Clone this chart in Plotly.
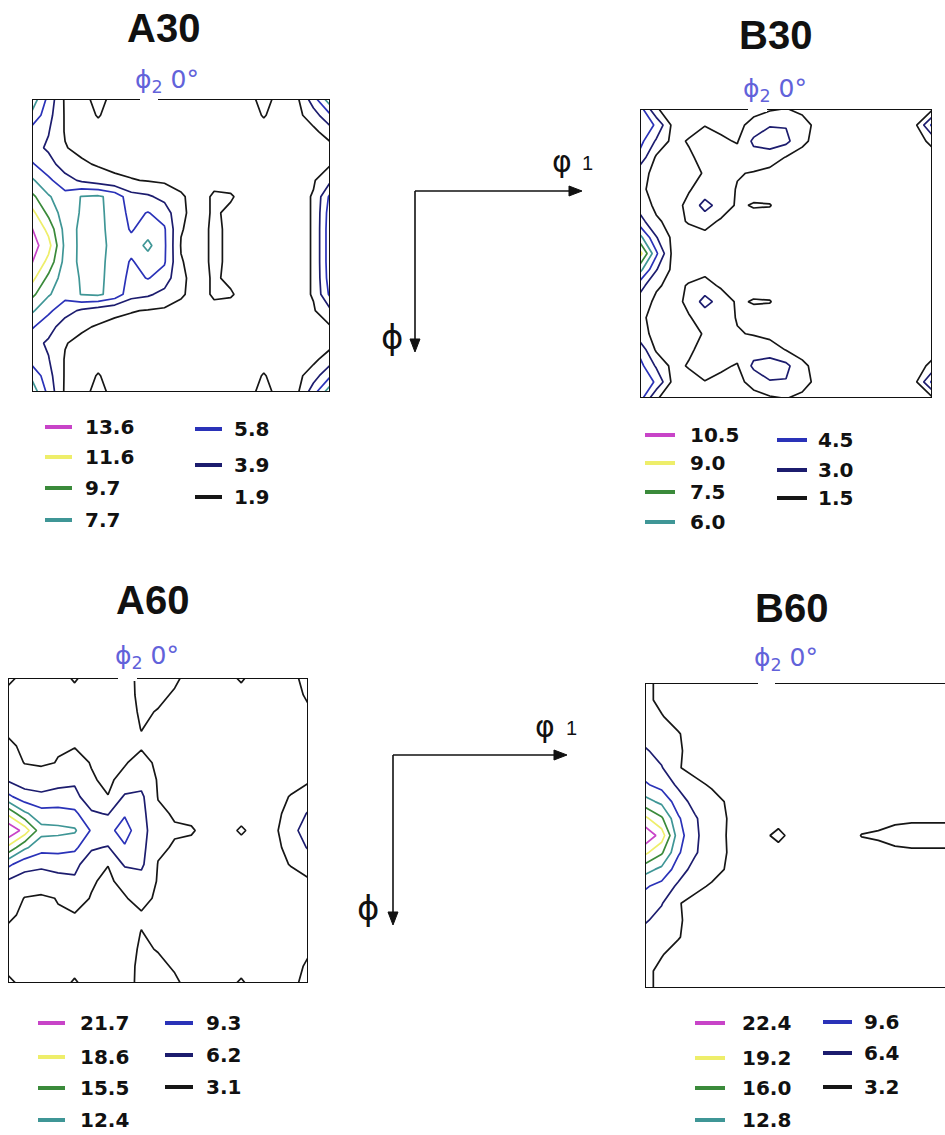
import plotly.graph_objects as go

W, H = 945, 1135

# Euler-angle grid of the phi2 = 0 sections (degrees): phi1 across, Phi downward
PHI1 = [0, 5, 10, 15, 20, 25, 30, 35, 40, 45, 50, 55, 60, 65, 70, 75, 80, 85, 90]
PHI = [0, 5, 10, 15, 20, 25, 30, 35, 40, 45, 50, 55, 60, 65, 70, 75, 80, 85, 90]

# iso-intensity levels, low to high
A30_LEVELS = [1.9, 3.9, 5.8, 7.7, 9.7, 11.6, 13.6]
B30_LEVELS = [1.5, 3.0, 4.5, 6.0, 7.5, 9.0, 10.5]
A60_LEVELS = [3.1, 6.2, 9.3, 12.4, 15.5, 18.6, 21.7]
B60_LEVELS = [3.2, 6.4, 9.6, 12.8, 16.0, 19.2, 22.4]

LEVEL_COLORS = ["#161616", "#1c1c6e", "#2a32b8", "#3f9696", "#3a8a3a", "#eeee6a", "#c844c8"]

# ODF intensity, one row per Phi value, one column per phi1 value
A30_ODF = [
    [9.0, 5.2, 1.6, 1.4, 2.4, 1.4, 1.2, 1.2, 1.2, 1.2, 1.2, 1.2, 1.2, 1.4, 2.4, 1.4, 1.5, 5.0, 9.0],
    [7.2, 4.6, 1.7, 1.3, 2.0, 1.3, 1.2, 1.2, 1.2, 1.2, 1.2, 1.2, 1.2, 1.3, 2.0, 1.3, 1.3, 3.0, 5.5],
    [5.0, 4.0, 1.75, 1.2, 1.4, 1.2, 1.2, 1.2, 1.2, 1.2, 1.2, 1.2, 1.2, 1.2, 1.4, 1.2, 1.2, 1.4, 3.0],
    [4.6, 3.6, 2.0, 1.4, 1.2, 1.2, 1.2, 1.2, 1.2, 1.2, 1.2, 1.2, 1.2, 1.2, 1.2, 1.2, 1.2, 1.2, 1.2],
    [6.0, 4.6, 3.0, 2.2, 1.7, 1.4, 1.3, 1.2, 1.2, 1.2, 1.2, 1.2, 1.2, 1.2, 1.2, 1.2, 1.2, 1.2, 1.7],
    [8.0, 6.2, 4.6, 3.6, 2.9, 2.3, 2.0, 1.8, 1.6, 1.4, 1.2, 1.5, 1.3, 1.2, 1.2, 1.2, 1.2, 1.7, 3.5],
    [10.2, 7.9, 6.5, 7.8, 8.0, 7.0, 4.6, 4.2, 3.3, 2.1, 1.3, 2.1, 2.05, 1.3, 1.2, 1.2, 1.2, 2.05, 6.2],
    [12.2, 9.2, 6.6, 7.9, 8.1, 7.0, 5.2, 5.9, 5.0, 2.2, 1.3, 2.1, 1.6, 1.2, 1.2, 1.2, 1.2, 2.05, 6.8],
    [13.7, 11.0, 7.0, 8.0, 8.2, 7.0, 5.6, 6.8, 6.0, 2.0, 1.3, 2.2, 1.6, 1.2, 1.2, 1.2, 1.2, 2.05, 7.0],
    [14.5, 12.3, 7.2, 7.9, 8.2, 7.2, 6.5, 8.2, 6.1, 1.8, 1.3, 2.2, 1.6, 1.2, 1.2, 1.2, 1.2, 2.05, 7.0],
    [13.7, 11.0, 7.0, 8.0, 8.2, 7.0, 5.6, 6.8, 6.0, 2.0, 1.3, 2.2, 1.6, 1.2, 1.2, 1.2, 1.2, 2.05, 7.0],
    [12.2, 9.2, 6.6, 7.9, 8.1, 7.0, 5.2, 5.9, 5.0, 2.2, 1.3, 2.1, 1.6, 1.2, 1.2, 1.2, 1.2, 2.05, 6.8],
    [10.2, 7.9, 6.5, 7.8, 8.0, 7.0, 4.6, 4.2, 3.3, 2.1, 1.3, 2.1, 2.05, 1.3, 1.2, 1.2, 1.2, 2.05, 6.2],
    [8.0, 6.2, 4.6, 3.6, 2.9, 2.3, 2.0, 1.8, 1.6, 1.4, 1.2, 1.5, 1.3, 1.2, 1.2, 1.2, 1.2, 1.7, 3.5],
    [6.0, 4.6, 3.0, 2.2, 1.7, 1.4, 1.3, 1.2, 1.2, 1.2, 1.2, 1.2, 1.2, 1.2, 1.2, 1.2, 1.2, 1.2, 1.7],
    [4.6, 3.6, 2.0, 1.4, 1.2, 1.2, 1.2, 1.2, 1.2, 1.2, 1.2, 1.2, 1.2, 1.2, 1.2, 1.2, 1.2, 1.2, 1.2],
    [5.0, 4.0, 1.75, 1.2, 1.4, 1.2, 1.2, 1.2, 1.2, 1.2, 1.2, 1.2, 1.2, 1.2, 1.4, 1.2, 1.2, 1.4, 3.0],
    [7.2, 4.6, 1.7, 1.3, 2.0, 1.3, 1.2, 1.2, 1.2, 1.2, 1.2, 1.2, 1.2, 1.3, 2.0, 1.3, 1.3, 3.0, 5.5],
    [9.0, 5.2, 1.6, 1.4, 2.4, 1.4, 1.2, 1.2, 1.2, 1.2, 1.2, 1.2, 1.2, 1.4, 2.4, 1.4, 1.5, 5.0, 9.0],
]

B30_ODF = [
    [5.2, 1.6, 1.0, 1.0, 1.0, 1.0, 1.0, 1.0, 1.3, 1.55, 1.2, 1.0, 1.0, 1.0, 1.0, 1.0, 1.0, 1.0, 1.2],
    [5.6, 4.3, 1.2, 1.0, 1.45, 1.2, 1.1, 2.0, 2.9, 2.9, 2.0, 1.1, 1.0, 1.0, 1.0, 1.0, 1.0, 1.3, 4.8],
    [5.0, 2.8, 1.1, 1.6, 2.2, 1.7, 1.4, 3.3, 3.8, 3.4, 1.8, 1.0, 1.0, 1.0, 1.0, 1.0, 1.0, 1.0, 1.8],
    [4.0, 1.3, 1.0, 1.3, 1.9, 1.9, 2.0, 2.4, 2.2, 1.45, 1.0, 1.0, 1.0, 1.0, 1.0, 1.0, 1.0, 1.0, 1.0],
    [2.0, 1.1, 1.0, 1.1, 1.6, 1.9, 1.6, 1.4, 1.1, 1.0, 1.0, 1.0, 1.0, 1.0, 1.0, 1.0, 1.0, 1.0, 1.0],
    [1.8, 1.0, 1.0, 1.4, 2.0, 2.2, 1.4, 1.0, 1.0, 1.0, 1.0, 1.0, 1.0, 1.0, 1.0, 1.0, 1.0, 1.0, 1.0],
    [2.3, 1.2, 1.0, 1.8, 3.6, 2.3, 1.3, 1.6, 1.55, 1.0, 1.0, 1.0, 1.0, 1.0, 1.0, 1.0, 1.0, 1.0, 1.0],
    [3.6, 1.7, 1.1, 1.6, 2.0, 1.3, 1.0, 1.0, 1.0, 1.0, 1.0, 1.0, 1.0, 1.0, 1.0, 1.0, 1.0, 1.0, 1.0],
    [6.5, 3.1, 1.2, 1.0, 1.1, 1.0, 1.0, 1.0, 1.0, 1.0, 1.0, 1.0, 1.0, 1.0, 1.0, 1.0, 1.0, 1.0, 1.0],
    [9.6, 4.8, 1.2, 1.0, 1.0, 1.0, 1.0, 1.0, 1.0, 1.0, 1.0, 1.0, 1.0, 1.0, 1.0, 1.0, 1.0, 1.0, 1.0],
    [6.5, 3.1, 1.2, 1.0, 1.1, 1.0, 1.0, 1.0, 1.0, 1.0, 1.0, 1.0, 1.0, 1.0, 1.0, 1.0, 1.0, 1.0, 1.0],
    [3.6, 1.7, 1.1, 1.6, 2.0, 1.3, 1.0, 1.0, 1.0, 1.0, 1.0, 1.0, 1.0, 1.0, 1.0, 1.0, 1.0, 1.0, 1.0],
    [2.3, 1.2, 1.0, 1.8, 3.6, 2.3, 1.3, 1.6, 1.55, 1.0, 1.0, 1.0, 1.0, 1.0, 1.0, 1.0, 1.0, 1.0, 1.0],
    [1.8, 1.0, 1.0, 1.4, 2.0, 2.2, 1.4, 1.0, 1.0, 1.0, 1.0, 1.0, 1.0, 1.0, 1.0, 1.0, 1.0, 1.0, 1.0],
    [2.0, 1.1, 1.0, 1.1, 1.6, 1.9, 1.6, 1.4, 1.1, 1.0, 1.0, 1.0, 1.0, 1.0, 1.0, 1.0, 1.0, 1.0, 1.0],
    [4.0, 1.3, 1.0, 1.3, 1.9, 1.9, 2.0, 2.4, 2.2, 1.45, 1.0, 1.0, 1.0, 1.0, 1.0, 1.0, 1.0, 1.0, 1.0],
    [5.0, 2.8, 1.1, 1.6, 2.2, 1.7, 1.4, 3.3, 3.8, 3.4, 1.8, 1.0, 1.0, 1.0, 1.0, 1.0, 1.0, 1.0, 1.8],
    [5.6, 4.3, 1.2, 1.0, 1.45, 1.2, 1.1, 2.0, 2.9, 2.9, 2.0, 1.1, 1.0, 1.0, 1.0, 1.0, 1.0, 1.3, 4.8],
    [5.2, 1.6, 1.0, 1.0, 1.0, 1.0, 1.0, 1.0, 1.3, 1.55, 1.2, 1.0, 1.0, 1.0, 1.0, 1.0, 1.0, 1.0, 1.2],
]

A60_ODF = [
    [3.6, 2.5, 2.0, 2.5, 3.3, 2.4, 2.0, 2.4, 3.6, 3.8, 3.4, 2.5, 2.2, 2.6, 3.3, 2.4, 2.2, 2.8, 3.5],
    [2.5, 2.3, 2.0, 2.2, 2.6, 2.2, 2.0, 2.3, 3.6, 3.5, 2.9, 2.3, 2.0, 2.0, 2.6, 2.2, 2.0, 2.6, 3.3],
    [2.2, 2.0, 2.0, 2.0, 2.1, 2.0, 1.9, 2.2, 3.4, 3.0, 2.5, 2.0, 1.8, 1.8, 1.8, 1.8, 1.8, 2.0, 2.9],
    [2.8, 2.3, 2.2, 2.3, 2.5, 2.2, 2.0, 2.2, 3.15, 2.6, 2.3, 1.9, 1.8, 1.8, 1.8, 1.8, 1.8, 1.9, 2.4],
    [3.4, 2.8, 2.7, 2.9, 3.0, 2.6, 2.3, 2.6, 2.8, 2.5, 2.3, 2.0, 1.8, 1.8, 1.8, 1.8, 1.8, 2.0, 2.6],
    [4.5, 3.0, 2.7, 3.2, 3.8, 3.0, 2.6, 2.9, 4.0, 2.6, 2.4, 2.2, 2.0, 1.9, 1.9, 1.9, 1.9, 2.2, 2.8],
    [5.8, 4.6, 4.6, 5.2, 5.7, 3.3, 2.7, 3.8, 5.0, 2.9, 2.6, 2.2, 2.0, 1.9, 1.9, 2.0, 2.2, 2.5, 2.9],
    [10.0, 7.5, 6.8, 7.2, 7.0, 4.5, 3.15, 6.6, 6.8, 3.0, 2.6, 2.4, 2.2, 2.0, 2.0, 2.2, 2.6, 3.2, 3.8],
    [18.0, 13.0, 10.5, 10.5, 10.0, 6.6, 6.0, 9.0, 7.2, 3.5, 2.9, 2.7, 2.4, 2.0, 2.0, 2.2, 2.6, 3.8, 6.5],
    [24.5, 20.5, 13.5, 13.2, 12.8, 9.0, 8.5, 10.5, 7.5, 4.0, 3.3, 3.25, 2.6, 2.0, 3.5, 2.0, 2.6, 5.0, 8.0],
    [18.0, 13.0, 10.5, 10.5, 10.0, 6.6, 6.0, 9.0, 7.2, 3.5, 2.9, 2.7, 2.4, 2.0, 2.0, 2.2, 2.6, 3.8, 6.5],
    [10.0, 7.5, 6.8, 7.2, 7.0, 4.5, 3.15, 6.6, 6.8, 3.0, 2.6, 2.4, 2.2, 2.0, 2.0, 2.2, 2.6, 3.2, 3.8],
    [5.8, 4.6, 4.6, 5.2, 5.7, 3.3, 2.7, 3.8, 5.0, 2.9, 2.6, 2.2, 2.0, 1.9, 1.9, 2.0, 2.2, 2.5, 2.9],
    [4.5, 3.0, 2.7, 3.2, 3.8, 3.0, 2.6, 2.9, 4.0, 2.6, 2.4, 2.2, 2.0, 1.9, 1.9, 1.9, 1.9, 2.2, 2.8],
    [3.4, 2.8, 2.7, 2.9, 3.0, 2.6, 2.3, 2.6, 2.8, 2.5, 2.3, 2.0, 1.8, 1.8, 1.8, 1.8, 1.8, 2.0, 2.6],
    [2.8, 2.3, 2.2, 2.3, 2.5, 2.2, 2.0, 2.2, 3.15, 2.6, 2.3, 1.9, 1.8, 1.8, 1.8, 1.8, 1.8, 1.9, 2.4],
    [2.2, 2.0, 2.0, 2.0, 2.1, 2.0, 1.9, 2.2, 3.4, 3.0, 2.5, 2.0, 1.8, 1.8, 1.8, 1.8, 1.8, 2.0, 2.9],
    [2.5, 2.3, 2.0, 2.2, 2.6, 2.2, 2.0, 2.3, 3.6, 3.5, 2.9, 2.3, 2.0, 2.0, 2.6, 2.2, 2.0, 2.6, 3.3],
    [3.6, 2.5, 2.0, 2.5, 3.3, 2.4, 2.0, 2.4, 3.6, 3.8, 3.4, 2.5, 2.2, 2.6, 3.3, 2.4, 2.2, 2.8, 3.5],
]

B60_ODF = [
    [3.8, 2.6, 2.0, 1.8, 1.7, 1.6, 1.6, 1.6, 1.6, 1.6, 1.6, 1.6, 1.6, 1.6, 1.6, 1.6, 1.6, 1.6, 1.6],
    [3.6, 2.8, 2.2, 1.9, 1.8, 1.7, 1.6, 1.6, 1.6, 1.6, 1.6, 1.6, 1.6, 1.6, 1.6, 1.6, 1.6, 1.6, 1.6],
    [3.8, 3.3, 2.6, 2.1, 1.9, 1.8, 1.7, 1.6, 1.6, 1.6, 1.6, 1.6, 1.6, 1.6, 1.6, 1.6, 1.6, 1.6, 1.6],
    [5.0, 4.2, 3.3, 2.5, 2.1, 1.9, 1.8, 1.7, 1.6, 1.6, 1.6, 1.6, 1.6, 1.6, 1.6, 1.6, 1.6, 1.6, 1.6],
    [6.8, 5.2, 3.4, 2.6, 2.3, 2.0, 1.9, 1.8, 1.7, 1.6, 1.6, 1.6, 1.6, 1.6, 1.6, 1.6, 1.6, 1.6, 1.6],
    [8.0, 6.6, 3.3, 2.7, 2.2, 2.1, 2.0, 1.9, 1.8, 1.7, 1.6, 1.6, 1.6, 1.6, 1.6, 1.6, 1.6, 1.6, 1.6],
    [10.0, 8.5, 5.8, 3.6, 3.0, 2.4, 2.1, 2.0, 1.9, 1.8, 1.7, 1.6, 1.6, 1.6, 1.6, 1.6, 1.7, 1.7, 1.7],
    [14.0, 12.0, 8.0, 5.2, 3.8, 3.0, 2.3, 2.1, 2.0, 1.9, 1.8, 1.7, 1.7, 1.7, 1.8, 1.9, 2.0, 2.0, 2.0],
    [20.0, 16.5, 10.0, 6.8, 4.2, 3.1, 2.2, 2.2, 2.6, 2.2, 1.9, 1.8, 1.8, 2.0, 2.2, 2.6, 2.8, 2.8, 2.8],
    [25.0, 21.0, 11.0, 7.0, 4.5, 3.0, 2.0, 2.8, 3.6, 2.6, 2.0, 1.8, 2.0, 3.3, 3.6, 4.2, 4.4, 4.4, 4.4],
    [20.0, 16.5, 10.0, 6.8, 4.2, 3.1, 2.2, 2.2, 2.6, 2.2, 1.9, 1.8, 1.8, 2.0, 2.2, 2.6, 2.8, 2.8, 2.8],
    [14.0, 12.0, 8.0, 5.2, 3.8, 3.0, 2.3, 2.1, 2.0, 1.9, 1.8, 1.7, 1.7, 1.7, 1.8, 1.9, 2.0, 2.0, 2.0],
    [10.0, 8.5, 5.8, 3.6, 3.0, 2.4, 2.1, 2.0, 1.9, 1.8, 1.7, 1.6, 1.6, 1.6, 1.6, 1.6, 1.7, 1.7, 1.7],
    [8.0, 6.6, 3.3, 2.7, 2.2, 2.1, 2.0, 1.9, 1.8, 1.7, 1.6, 1.6, 1.6, 1.6, 1.6, 1.6, 1.6, 1.6, 1.6],
    [6.8, 5.2, 3.4, 2.6, 2.3, 2.0, 1.9, 1.8, 1.7, 1.6, 1.6, 1.6, 1.6, 1.6, 1.6, 1.6, 1.6, 1.6, 1.6],
    [5.0, 4.2, 3.3, 2.5, 2.1, 1.9, 1.8, 1.7, 1.6, 1.6, 1.6, 1.6, 1.6, 1.6, 1.6, 1.6, 1.6, 1.6, 1.6],
    [3.8, 3.3, 2.6, 2.1, 1.9, 1.8, 1.7, 1.6, 1.6, 1.6, 1.6, 1.6, 1.6, 1.6, 1.6, 1.6, 1.6, 1.6, 1.6],
    [3.6, 2.8, 2.2, 1.9, 1.8, 1.7, 1.6, 1.6, 1.6, 1.6, 1.6, 1.6, 1.6, 1.6, 1.6, 1.6, 1.6, 1.6, 1.6],
    [3.8, 2.6, 2.0, 1.8, 1.7, 1.6, 1.6, 1.6, 1.6, 1.6, 1.6, 1.6, 1.6, 1.6, 1.6, 1.6, 1.6, 1.6, 1.6],
]

# page layout of each section (pixels): plot box, title, phi2 label, legend columns
PANELS = [
    dict(name="A30", odf=A30_ODF, levels=A30_LEVELS, box=(32, 99, 330, 392),
         title=(163, 28), label=(167, 81), gap=(140, 158), right=True,
         col1=(45, 72, 83, [427, 457, 488, 520]), col2=(195, 222, 232, [429, 465, 497])),
    dict(name="B30", odf=B30_ODF, levels=B30_LEVELS, box=(640, 109, 932, 398),
         title=(775, 35), label=(775, 90), gap=(748, 767), right=True,
         col1=(645, 675, 688, [435, 463, 492, 522]), col2=(777, 807, 816, [440, 470, 498])),
    dict(name="A60", odf=A60_ODF, levels=A60_LEVELS, box=(8, 678, 308, 983),
         title=(152, 600), label=(147, 657), gap=(118, 137), right=True,
         col1=(38, 65, 78, [1023, 1057, 1088, 1120]), col2=(165, 193, 204, [1023, 1055, 1087])),
    dict(name="B60", odf=B60_ODF, levels=B60_LEVELS, box=(645, 683, 945, 988),
         title=(791, 608), label=(786, 659), gap=(758, 775), right=False,
         col1=(695, 725, 740, [1023, 1058, 1088, 1120]), col2=(823, 852, 862, [1022, 1053, 1087])),
]


def px(x):
    return x / W


def py(y):
    return 1 - y / H


fig = go.Figure()
shapes = []
annotations = []
layout_axes = {}

for i, p in enumerate(PANELS):
    n = "" if i == 0 else str(i + 1)
    x0, y0, x1, y1 = p["box"]
    layout_axes["xaxis" + n] = dict(domain=[px(x0), px(x1)], range=[0, 90], visible=False,
                                    anchor="y" + n, fixedrange=True)
    layout_axes["yaxis" + n] = dict(domain=[py(y1), py(y0)], range=[90, 0], visible=False,
                                    anchor="x" + n, fixedrange=True)

    # one contour trace per iso-level so each level keeps its own colour
    for lv, col in zip(p["levels"], LEVEL_COLORS):
        fig.add_trace(go.Contour(
            x=PHI1, y=PHI, z=p["odf"], xaxis="x" + n, yaxis="y" + n,
            autocontour=False,
            contours=dict(start=lv, end=lv, size=1, coloring="none", showlines=True),
            line=dict(color=col, width=1.7, smoothing=0),
            showscale=False, hoverinfo="skip",
        ))

    # section frame
    xr, yr = "x" + n, "y" + n
    frame = dict(color="#111111", width=2)
    shapes.append(dict(type="line", xref=xr, yref=yr, x0=0, y0=0, x1=90, y1=0, line=frame, layer="above"))
    shapes.append(dict(type="line", xref=xr, yref=yr, x0=0, y0=90, x1=90, y1=90, line=frame, layer="above"))
    shapes.append(dict(type="line", xref=xr, yref=yr, x0=0, y0=0, x1=0, y1=90, line=frame, layer="above"))
    if p["right"]:
        shapes.append(dict(type="line", xref=xr, yref=yr, x0=90, y0=0, x1=90, y1=90, line=frame, layer="above"))
    # opening in the top edge under the phi2 label
    g0, g1 = p["gap"]
    shapes.append(dict(type="rect", xref="paper", yref="paper", x0=px(g0), x1=px(g1),
                       y0=py(y0 + 3), y1=py(y0 - 3), fillcolor="white", line=dict(width=0),
                       layer="above"))

    # section title and phi2 label
    tx, ty = p["title"]
    annotations.append(dict(x=px(tx), y=py(ty), xref="paper", yref="paper", showarrow=False,
                            text="<b>" + p["name"] + "</b>", xanchor="center", yanchor="middle",
                            font=dict(family="Liberation Sans, Arial, sans-serif", size=40, color="#111111")))
    lx, ly = p["label"]
    annotations.append(dict(x=px(lx), y=py(ly), xref="paper", yref="paper", showarrow=False,
                            text="ϕ<sub>2</sub> 0°", xanchor="center", yanchor="middle",
                            font=dict(family="DejaVu Sans, sans-serif", size=25, color="#6262da")))

    # level key: four highest levels in the first column, the rest in the second
    order = list(reversed(list(zip(p["levels"], LEVEL_COLORS))))
    cols = [(p["col1"], order[:4]), (p["col2"], order[4:])]
    for (sx0, sx1, txt_x, rows), items in cols:
        for (lv, col), ry in zip(items, rows):
            shapes.append(dict(type="line", xref="paper", yref="paper", x0=px(sx0), x1=px(sx1),
                               y0=py(ry), y1=py(ry), line=dict(color=col, width=4)))
            annotations.append(dict(x=px(txt_x), y=py(ry), xref="paper", yref="paper",
                                    showarrow=False, text="<b>%.1f</b>" % lv,
                                    xanchor="left", yanchor="middle",
                                    font=dict(family="DejaVu Sans, sans-serif", size=20, color="#111111")))

# Euler-angle axis keys: origin, phi1 arrow tip, Phi arrow tip, label positions
AXIS_KEYS = [
    dict(origin=(415, 191), tip_h=(582, 191), tip_v=(415, 352), phi1=(562, 162), one=(587, 163), phi=(392, 337)),
    dict(origin=(393, 755), tip_h=(567, 755), tip_v=(393, 925), phi1=(545, 726), one=(571, 728), phi=(368, 908)),
]
HEAD_LEN, HEAD_HALF = 13, 5
ink = "#111111"
for k in AXIS_KEYS:
    ox, oy = k["origin"]
    hx, hy = k["tip_h"]
    vx, vy = k["tip_v"]
    # shafts
    shapes.append(dict(type="line", xref="paper", yref="paper", x0=px(ox), y0=py(oy),
                       x1=px(hx - HEAD_LEN + 1), y1=py(hy), line=dict(color=ink, width=1.6)))
    shapes.append(dict(type="line", xref="paper", yref="paper", x0=px(ox), y0=py(oy),
                       x1=px(vx), y1=py(vy - HEAD_LEN + 1), line=dict(color=ink, width=1.6)))
    # filled heads
    head_h = "M %f %f L %f %f L %f %f Z" % (px(hx), py(hy), px(hx - HEAD_LEN), py(hy - HEAD_HALF),
                                             px(hx - HEAD_LEN), py(hy + HEAD_HALF))
    head_v = "M %f %f L %f %f L %f %f Z" % (px(vx), py(vy), px(vx - HEAD_HALF), py(vy - HEAD_LEN),
                                             px(vx + HEAD_HALF), py(vy - HEAD_LEN))
    for path in (head_h, head_v):
        shapes.append(dict(type="path", xref="paper", yref="paper", path=path,
                           fillcolor=ink, line=dict(color=ink, width=1)))
    annotations.append(dict(x=px(k["phi1"][0]), y=py(k["phi1"][1]), xref="paper", yref="paper",
                            showarrow=False, text="φ", xanchor="center", yanchor="middle",
                            font=dict(family="DejaVu Sans, sans-serif", size=30, color=ink)))
    annotations.append(dict(x=px(k["one"][0]), y=py(k["one"][1]), xref="paper", yref="paper",
                            showarrow=False, text="1", xanchor="center", yanchor="middle",
                            font=dict(family="Liberation Sans, Arial, sans-serif", size=20, color=ink)))
    annotations.append(dict(x=px(k["phi"][0]), y=py(k["phi"][1]), xref="paper", yref="paper",
                            showarrow=False, text="ϕ", xanchor="center", yanchor="middle",
                            font=dict(family="DejaVu Sans, sans-serif", size=34, color=ink)))

fig.update_layout(
    width=W, height=H, margin=dict(l=0, r=0, t=0, b=0),
    paper_bgcolor="white", plot_bgcolor="white", showlegend=False,
    shapes=shapes, annotations=annotations, **layout_axes,
)

fig.write_html("out.html")
